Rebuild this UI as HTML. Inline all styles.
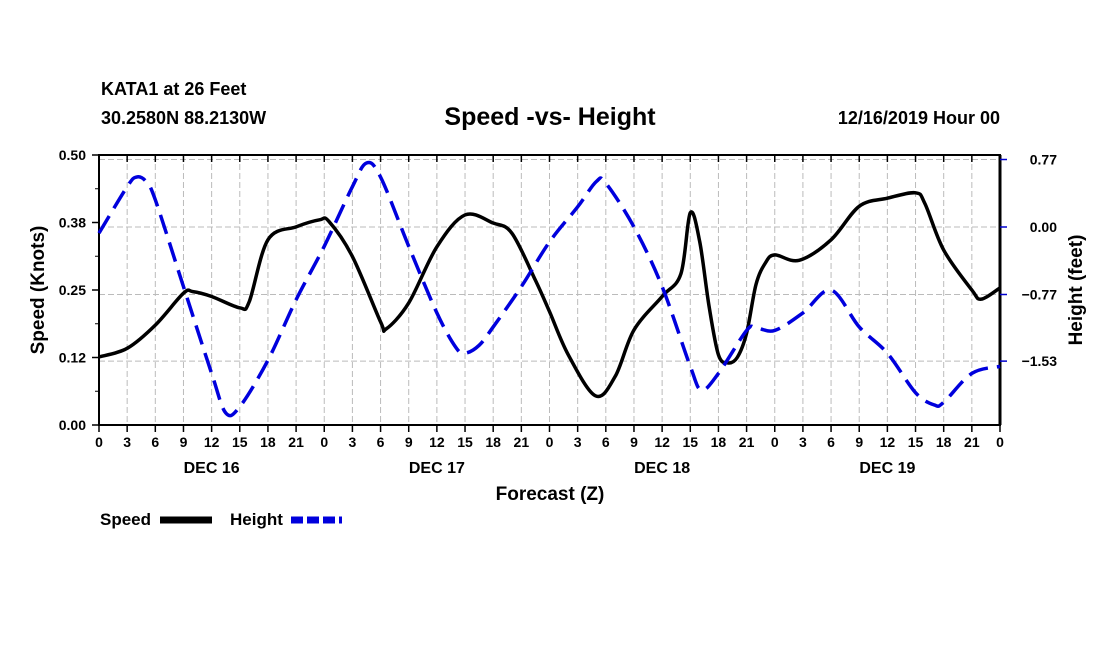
<!DOCTYPE html>
<html><head><meta charset="utf-8"><style>
body{margin:0;background:#fff;}
svg{display:block;font-family:"Liberation Sans",sans-serif;font-weight:bold;}
</style></head><body>
<svg id="chart" width="1100" height="650" viewBox="0 0 1100 650">
<text x="101" y="95" font-size="18">KATA1 at 26 Feet</text>
<text x="101" y="124" font-size="18">30.2580N 88.2130W</text>
<text x="550" y="125" font-size="25" text-anchor="middle">Speed -vs- Height</text>
<text x="1000" y="124" font-size="18" text-anchor="end">12/16/2019 Hour 00</text>
<g id="grid"></g>
<g id="axes"></g>
<g id="series"></g>
<text x="44" y="290" font-size="19" text-anchor="middle" transform="rotate(-90 44 290)">Speed (Knots)</text>
<text x="1082" y="290" font-size="19" text-anchor="middle" transform="rotate(-90 1082 290)">Height (feet)</text>
<text x="550" y="500" font-size="19" text-anchor="middle">Forecast (Z)</text>
<g>
<text x="100" y="525" font-size="17">Speed</text>
<line x1="160" y1="520" x2="212" y2="520" stroke="#000" stroke-width="7"/>
<text x="230" y="525" font-size="17">Height</text>
<line x1="291" y1="520" x2="342" y2="520" stroke="#0000dd" stroke-width="7" stroke-dasharray="12 4"/>
</g>
</svg>
<script>
const speedHours=[0,3,6,9,10,12,15,16,18,21,23.5,24.5,27,30,30.6,33,36,39,42,44,46.5,48,50,52.9,55,57,60,62,63,64,65,66,67,68,69,70,71,72,74.6,78,81,84,87,88,90,93,94,96];
const speedValues=[0.126,0.142,0.185,0.244,0.247,0.238,0.217,0.228,0.343,0.367,0.38,0.377,0.312,0.191,0.178,0.226,0.33,0.389,0.374,0.355,0.268,0.21,0.13,0.054,0.09,0.176,0.238,0.28,0.393,0.34,0.22,0.13,0.115,0.125,0.17,0.26,0.30,0.315,0.305,0.343,0.405,0.42,0.43,0.41,0.324,0.25,0.233,0.254];
const heightHours=[0,3,4,5,6,9,12,13.5,15,18,21,24,27,28.5,30,33,36,38,39,40.5,42,45,48,51,53,54,57,60,63,64.2,66,69,70,72,75,78,81,84,87,89,90,93,96];
const heightValues=[-0.07,0.46,0.57,0.52,0.31,-0.68,-1.67,-2.12,-2.05,-1.52,-0.83,-0.22,0.46,0.73,0.57,-0.22,-0.98,-1.37,-1.44,-1.35,-1.14,-0.68,-0.17,0.23,0.52,0.50,0.0,-0.68,-1.59,-1.86,-1.67,-1.18,-1.15,-1.18,-0.98,-0.72,-1.14,-1.44,-1.89,-2.03,-2.0,-1.67,-1.59];
const leftTicks=[0,0.125,0.25,0.375,0.5];
const leftTickLabels=["0.00","0.12","0.25","0.38","0.50"];
const rightTicks=[0.77,0,-0.77,-1.53];
const rightTickLabels=["0.77","0.00","\u22120.77","\u22121.53"];
const dayLabels=["DEC 16","DEC 17","DEC 18","DEC 19"];

const NS="http://www.w3.org/2000/svg";
const L=99,R=1000,T=155,B=425;
const xS=h=>L+h*(R-L)/96;
const yL=v=>B-v*(B-T)/0.5;
const yR=v=>227-v*87.66;
function mk(tag,attrs,parent){const e=document.createElementNS(NS,tag);for(const k in attrs)e.setAttribute(k,attrs[k]);parent.appendChild(e);return e;}
const grid=document.getElementById('grid'),axes=document.getElementById('axes'),series=document.getElementById('series');
for(let h=3;h<96;h+=3){const g=mk('line',{x1:xS(h),x2:xS(h),y1:T,y2:B,stroke:'#bbb','stroke-dasharray':'6 3','stroke-width':1},grid);

}
rightTicks.forEach(v=>{const g=mk('line',{x1:L,x2:R,y1:yR(v),y2:yR(v),stroke:'#bbb','stroke-dasharray':'6 3','stroke-width':1},grid);

});
const fr=mk('rect',{x:L,y:T,width:R-L,height:B-T,fill:'none',stroke:'#000','stroke-width':2},axes);


mk('line',{x1:R,x2:R,y1:T,y2:B,stroke:'#000','stroke-width':3},axes);
for(let h=0;h<=96;h+=3){
mk('line',{x1:xS(h),x2:xS(h),y1:B,y2:B+7,stroke:'#000','stroke-width':1.5},axes);
mk('line',{x1:xS(h),x2:xS(h),y1:T,y2:T+7,stroke:'#000','stroke-width':1.5},axes);
const t=mk('text',{x:xS(h),y:B+22,'font-size':14,'text-anchor':'middle'},axes);t.textContent=String(h%24);

}
dayLabels.forEach((d,i)=>{const t=mk('text',{x:xS(i*24+12),y:B+48,'font-size':16,'text-anchor':'middle'},axes);t.textContent=d;

});
leftTicks.forEach((v,i)=>{mk('line',{x1:L-7,x2:L,y1:yL(v),y2:yL(v),stroke:'#000','stroke-width':1.5},axes);
if(i<4)mk('line',{x1:L-4,x2:L,y1:yL(v+0.0625),y2:yL(v+0.0625),stroke:'#000','stroke-width':1},axes);
const t=mk('text',{x:L-13,y:yL(v)+5,'font-size':14,'text-anchor':'end'},axes);t.textContent=leftTickLabels[i];

});
rightTicks.forEach((v,i)=>{mk('line',{x1:R,x2:R+7,y1:yR(v),y2:yR(v),stroke:'#0000cc','stroke-width':1.5},axes);
const t=mk('text',{x:1057,y:yR(v)+5,'font-size':14,'text-anchor':'end'},axes);t.textContent=rightTickLabels[i];

});
function path(xs,ys){const p=xs.map((h,i)=>[h,ys[i]]);let d='M'+p[0][0]+','+p[0][1];
for(let i=0;i<p.length-1;i++){const p0=p[Math.max(0,i-1)],p1=p[i],p2=p[i+1],p3=p[Math.min(p.length-1,i+2)];
const c1=[p1[0]+(p2[0]-p0[0])/6,p1[1]+(p2[1]-p0[1])/6],c2=[p2[0]-(p3[0]-p1[0])/6,p2[1]-(p3[1]-p1[1])/6];
d+=' C'+c1.join(',')+' '+c2.join(',')+' '+p2.join(',');}return d;}
const sp=mk('path',{d:path(speedHours.map(xS),speedValues.map(yL)),fill:'none',stroke:'#000','stroke-width':3.5},series);


const hp=mk('path',{d:path(heightHours.map(xS),heightValues.map(yR)),fill:'none',stroke:'#0000dd','stroke-width':3.5,'stroke-dasharray':'20 9'},series);


</script>
</body></html>
